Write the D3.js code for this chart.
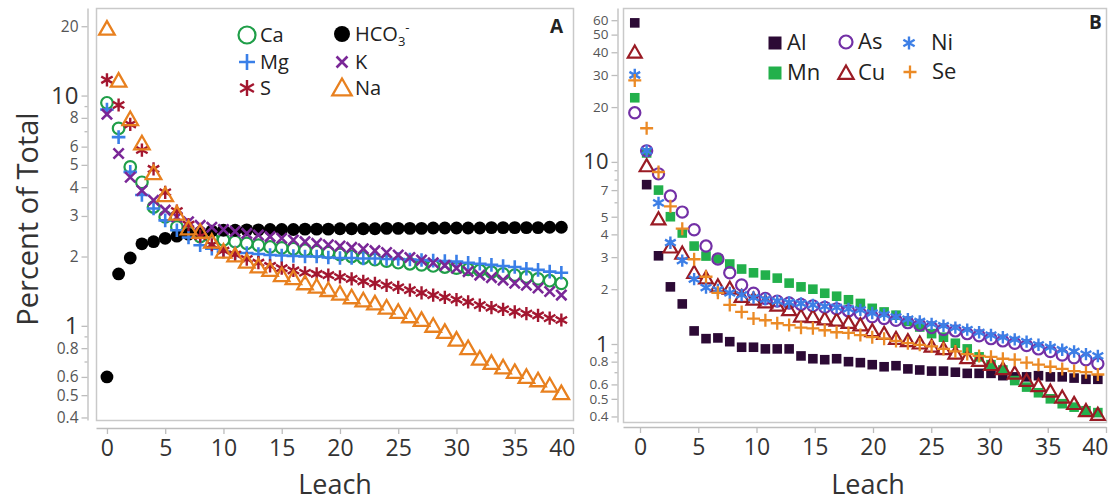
<!DOCTYPE html>
<html>
<head>
<meta charset="UTF-8">
<script src="https://cdn.jsdelivr.net/npm/d3@7"></script>
<style>
  body { margin: 0; background: #fff; }
  svg { font-family: "Open Sans", "Noto Sans", sans-serif; }
</style>
</head>
<body>
<svg id="chart" width="1110" height="504"></svg>
<script>
// ---- panel A: major ions, percent of total per leach ----
var leachA = d3.range(0, 40);
var caA   = [9.3, 7.2, 4.9, 4.2, 3.28, 2.97, 2.69, 2.55, 2.44, 2.4, 2.36, 2.32, 2.28, 2.24, 2.2, 2.18, 2.16, 2.13, 2.1, 2.08,
             2.04, 2.0, 1.97, 1.94, 1.91, 1.88, 1.86, 1.84, 1.82, 1.8, 1.78, 1.76, 1.74, 1.71, 1.68, 1.66, 1.63, 1.6, 1.57, 1.53];
var mgA   = [8.7, 6.6, 4.66, 3.7, 3.23, 2.87, 2.6, 2.42, 2.24, 2.16, 2.1, 2.08, 2.07, 2.05, 2.03, 2.02, 2.01, 2.0, 2.0, 1.98,
             1.97, 1.97, 1.96, 1.96, 1.95, 1.95, 1.94, 1.93, 1.92, 1.91, 1.9, 1.88, 1.86, 1.84, 1.82, 1.8, 1.77, 1.75, 1.72, 1.7];
var sA    = [11.7, 9.1, 7.5, 5.8, 4.8, 3.8, 3.15, 2.75, 2.45, 2.25, 2.12, 2.04, 1.95, 1.88, 1.82, 1.78, 1.74, 1.7, 1.68, 1.66,
             1.63, 1.6, 1.56, 1.53, 1.5, 1.47, 1.43, 1.39, 1.36, 1.33, 1.3, 1.27, 1.23, 1.2, 1.18, 1.15, 1.13, 1.11, 1.08, 1.06];
var hco3A = [0.6, 1.68, 1.97, 2.27, 2.32, 2.4, 2.45, 2.5, 2.55, 2.58, 2.6, 2.6, 2.61, 2.61, 2.62, 2.62, 2.62, 2.63, 2.63, 2.63,
             2.64, 2.64, 2.64, 2.64, 2.65, 2.65, 2.65, 2.65, 2.66, 2.66, 2.66, 2.66, 2.66, 2.67, 2.67, 2.67, 2.67, 2.67, 2.68, 2.68];
var kA    = [8.3, 5.6, 4.42, 3.87, 3.51, 3.18, 2.97, 2.83, 2.73, 2.68, 2.62, 2.57, 2.52, 2.48, 2.44, 2.4, 2.36, 2.32, 2.28, 2.25,
             2.22, 2.19, 2.16, 2.12, 2.08, 2.03, 1.98, 1.93, 1.88, 1.83, 1.78, 1.72, 1.66, 1.62, 1.58, 1.53, 1.5, 1.46, 1.41, 1.36];
var naA   = [19.5, 11.6, 7.9, 6.2, 4.6, 3.69, 3.07, 2.65, 2.56, 2.32, 2.1, 2.02, 1.9, 1.81, 1.75, 1.66, 1.61, 1.53, 1.48, 1.43,
             1.38, 1.33, 1.29, 1.25, 1.2, 1.15, 1.1, 1.06, 1.0, 0.94, 0.87, 0.8, 0.72, 0.69, 0.66, 0.63, 0.6, 0.58, 0.55, 0.51];

// ---- panel B: trace elements ----
var leachB = d3.range(0, 40);
var alB = [58, 7.5, 3.05, 2.06, 1.66, 1.18, 1.07, 1.08, 1.03, 0.96, 0.96, 0.94, 0.94, 0.94, 0.86, 0.83, 0.82, 0.83, 0.8, 0.79,
           0.77, 0.75, 0.76, 0.73, 0.72, 0.71, 0.71, 0.7, 0.69, 0.69, 0.69, 0.67, 0.66, 0.66, 0.67, 0.66, 0.66, 0.65, 0.64, 0.64];
var mnB = [22.5, 11.2, 7.0, 5.0, 4.07, 3.45, 3.04, 2.93, 2.75, 2.58, 2.46, 2.39, 2.3, 2.16, 2.06, 2.0, 1.9, 1.83, 1.75, 1.67,
           1.57, 1.5, 1.44, 1.33, 1.24, 1.14, 1.09, 1.01, 0.94, 0.85, 0.77, 0.72, 0.63, 0.58, 0.54, 0.5, 0.47, 0.45, 0.43, 0.42];
var asB = [18.6, 11.5, 8.6, 6.5, 5.3, 4.24, 3.45, 2.93, 2.46, 2.11, 1.9, 1.78, 1.72, 1.68, 1.65, 1.62, 1.59, 1.56, 1.52, 1.47,
           1.41, 1.38, 1.35, 1.31, 1.27, 1.23, 1.2, 1.18, 1.14, 1.11, 1.07, 1.04, 1.01, 0.98, 0.94, 0.91, 0.87, 0.84, 0.82, 0.78];
var cuB = [40, 9.5, 4.85, 3.4, 3.15, 2.47, 2.3, 2.08, 2.02, 1.82, 1.76, 1.7, 1.63, 1.54, 1.42, 1.41, 1.37, 1.35, 1.31, 1.27,
           1.18, 1.14, 1.07, 1.04, 1.01, 0.97, 0.94, 0.89, 0.84, 0.81, 0.77, 0.73, 0.69, 0.63, 0.59, 0.55, 0.51, 0.47, 0.43, 0.41];
var niB = [30, 11.5, 5.96, 3.6, 2.87, 2.27, 2.04, 1.98, 1.91, 1.86, 1.8, 1.76, 1.72, 1.69, 1.67, 1.64, 1.61, 1.59, 1.56, 1.54,
           1.48, 1.45, 1.41, 1.37, 1.33, 1.29, 1.26, 1.23, 1.2, 1.16, 1.12, 1.09, 1.06, 1.03, 0.99, 0.96, 0.93, 0.91, 0.88, 0.86];
var seB = [28, 15.3, 8.8, 5.7, 4.3, 2.92, 2.34, 1.91, 1.64, 1.5, 1.38, 1.35, 1.3, 1.27, 1.23, 1.22, 1.19, 1.16, 1.15, 1.12,
           1.09, 1.07, 1.04, 1.01, 0.99, 0.97, 0.94, 0.91, 0.88, 0.86, 0.85, 0.83, 0.82, 0.79, 0.77, 0.75, 0.73, 0.71, 0.7, 0.68];

var yTicksA = [20, 10, 8, 6, 5, 4, 3, 2, 1, 0.8, 0.6, 0.5, 0.4];
var yMinorA = [9, 7, 0.9, 0.7];
var yTicksB = [60, 50, 40, 30, 20, 10, 7, 5, 4, 3, 2, 1, 0.8, 0.6, 0.5, 0.4];
var yMinorB = [9, 8, 6, 0.9, 0.7];
var xTicks = [0, 5, 10, 15, 20, 25, 30, 35, 40];

var svg = d3.select("#chart");
svg.append("rect").attr("width", 1110).attr("height", 504).attr("fill", "#fff");

// marker shapes, r = half size
function markerPath(type, r) {
  var p = d3.path();
  if (type == "circle") {
    p.moveTo(r, 0); p.arc(0, 0, r, 0, 2 * Math.PI);
  } else if (type == "square") {
    p.rect(-r, -r, 2 * r, 2 * r);
  } else if (type == "triangle") {
    p.moveTo(0, -r); p.lineTo(r * 1.02, r * 0.78); p.lineTo(-r * 1.02, r * 0.78); p.closePath();
  } else if (type == "plus") {
    p.moveTo(-r, 0); p.lineTo(r, 0); p.moveTo(0, -r); p.lineTo(0, r);
  } else if (type == "times") {
    var a = r * 0.78;
    p.moveTo(-a, -a); p.lineTo(a, a); p.moveTo(-a, a); p.lineTo(a, -a);
  } else if (type == "asterisk") {
    for (var k = 0; k < 3; k++) {
      var ang = Math.PI / 2 + k * Math.PI / 3;
      p.moveTo(-r * Math.cos(ang), -r * Math.sin(ang));
      p.lineTo(r * Math.cos(ang), r * Math.sin(ang));
    }
  }
  return p.toString();
}

function styleMarker(sel, s) {
  sel.attr("fill", s.filled ? s.color : "none")
     .attr("stroke", s.filled ? "none" : s.color)
     .attr("stroke-width", s.sw || 2.3)
     .attr("stroke-linejoin", "miter");
}

function drawPanel(o) {
  var g = svg.append("g");
  var x = d3.scaleLinear().domain(o.xDomain).range(o.xRange);
  var y = d3.scaleLog().domain(o.yDomain).range([o.frameBottom, o.frameTop]);

  // frame
  g.append("rect")
    .attr("x", o.xRange[0] + 0.5).attr("y", o.frameTop + 0.5)
    .attr("width", o.xRange[1] - o.xRange[0]).attr("height", o.frameBottom - o.frameTop)
    .attr("fill", "none").attr("stroke", "#c9c9c9").attr("stroke-width", 1.5);

  // y axis, detached from the frame
  var ya = g.append("g").attr("transform", "translate(" + o.yAxisX + ",0)")
    .call(d3.axisLeft(y).tickValues(o.yTicks).tickSize(6).tickSizeOuter(0).tickPadding(3)
      .tickFormat(function (d) { return d3.format("")(d); }));
  ya.selectAll("text")
    .attr("font-size", function (d) { return (d == 10 || d == 1) ? o.bigTick : o.smallTick; })
    .attr("fill", function (d) { return (d == 10 || d == 1) ? "#333" : "#555"; })
    .attr("font-family", "'Open Sans', sans-serif");
  g.append("g").attr("transform", "translate(" + o.yAxisX + ",0)")
    .call(d3.axisLeft(y).tickValues(o.yMinor).tickSize(3).tickSizeOuter(0).tickFormat(""))
    .select(".domain").remove();
  g.selectAll(".tick line, .domain").attr("stroke", "#bdbdbd").attr("stroke-width", 1.3);

  // x axis
  var xa = g.append("g").attr("transform", "translate(0," + o.xAxisY + ")")
    .call(d3.axisBottom(x).tickValues(xTicks).tickSize(6).tickSizeOuter(0).tickPadding(6));
  xa.selectAll("text").attr("font-size", 23).attr("fill", "#333")
    .attr("font-family", "'Open Sans', sans-serif")
    .attr("text-anchor", function (d) { return d == 40 ? "end" : "middle"; })
    .attr("dx", function (d) { return d == 40 ? 2 : 0; });
  xa.selectAll(".tick line, .domain").attr("stroke", "#bdbdbd").attr("stroke-width", 1.3);

  g.append("text").attr("x", o.xTitleX).attr("y", 494)
    .attr("text-anchor", "middle").attr("font-size", 27).attr("fill", "#333").text("Leach");

  // points
  o.series.forEach(function (s) {
    g.append("g").selectAll("path").data(s.values).join("path")
      .attr("d", markerPath(s.shape, s.r))
      .attr("transform", function (d, i) { return "translate(" + x(o.pos(o.leach[i])) + "," + y(d) + ")"; })
      .call(styleMarker, s);
  });

  // panel letter
  g.append("text").attr("x", o.letterX).attr("y", o.letterY)
    .attr("font-size", 19).attr("font-weight", "bold").attr("fill", "#222").text(o.letter);
  return g;
}

var seriesA = [
  { name: "Ca",   values: caA,   color: "#1f9e48", shape: "circle",   r: 5.8, sw: 2.2 },
  { name: "HCO3", values: hco3A, color: "#000000", shape: "circle",   r: 6.4, filled: true },
  { name: "Mg",   values: mgA,   color: "#3a7fe8", shape: "plus",     r: 6.8, sw: 2.6 },
  { name: "K",    values: kA,    color: "#7a2797", shape: "times",    r: 6.6, sw: 2.6 },
  { name: "S",    values: sA,    color: "#a3162f", shape: "asterisk", r: 6.6, sw: 2.4 },
  { name: "Na",   values: naA,   color: "#e8801f", shape: "triangle", r: 7.6, sw: 2.3 }
];

var seriesB = [
  { name: "Al", values: alB, color: "#2c0a35", shape: "square",   r: 4.8, filled: true },
  { name: "Mn", values: mnB, color: "#22b04b", shape: "square",   r: 4.8, filled: true },
  { name: "As", values: asB, color: "#7330a6", shape: "circle",   r: 5.6, sw: 2.2 },
  { name: "Cu", values: cuB, color: "#9a1b24", shape: "triangle", r: 6.8, sw: 2.2 },
  { name: "Ni", values: niB, color: "#3d7fe6", shape: "asterisk", r: 6.2, sw: 2.4 },
  { name: "Se", values: seB, color: "#eb8a26", shape: "plus",     r: 6.5, sw: 2.3 }
];

// B samples sit slightly left of the integer ticks and spread a bit wider
var bPos = d3.scaleLinear().domain([0, 39]).range([-0.45, 39.3]);

drawPanel({
  letter: "A", letterX: 550, letterY: 33,
  xDomain: [-0.94, 40], xRange: [96, 573], xAxisY: 428,
  yDomain: [0.39, 24], frameTop: 8, frameBottom: 420, yAxisX: 87.5,
  yTicks: yTicksA, yMinor: yMinorA, bigTick: 24, smallTick: 15.5,
  xTitleX: 335, leach: leachA, pos: function (v) { return v; },
  series: seriesA
});

drawPanel({
  letter: "B", letterX: 1089, letterY: 29,
  xDomain: [-1.46, 40], xRange: [623, 1106], xAxisY: 427,
  yDomain: [0.373, 70], frameTop: 8, frameBottom: 422, yAxisX: 617.5,
  yTicks: yTicksB, yMinor: yMinorB, bigTick: 22, smallTick: 13.5,
  xTitleX: 868, leach: leachB, pos: bPos,
  series: seriesB
});

// y title
svg.append("text").attr("transform", "translate(38,219) rotate(-90)")
  .attr("text-anchor", "middle").attr("font-size", 29).attr("fill", "#333").text("Percent of Total");

// legends
function legendItem(x, y, s, r, label, fs) {
  svg.append("path").attr("d", markerPath(s.shape, r))
    .attr("transform", "translate(" + x + "," + y + ")").call(styleMarker, s);
  return svg.append("text").attr("x", x + 13).attr("y", y + 7)
    .attr("font-size", fs).attr("fill", "#222").text(label);
}
var legA = [
  [247, 35, seriesA[0], 8.5, "Ca"], [247, 62, seriesA[2], 8, "Mg"], [247, 88, seriesA[4], 8, "S"],
  [342, 34, seriesA[1], 8, "HCO"], [342, 62, seriesA[3], 7, "K"], [342, 88, seriesA[5], 9.5, "Na"]
];
legA.forEach(function (l) {
  var t = legendItem(l[0], l[1], l[2], l[3], l[4], 20);
  if (l[4] == "HCO") {
    t.append("tspan").attr("font-size", 13).attr("dy", 5).text("3");
    t.append("tspan").attr("font-size", 13).attr("dy", -14).text("-");
  }
});

var legB = [
  [775, 43, seriesB[0], 6.5, "Al"], [775, 73, seriesB[1], 6.5, "Mn"],
  [846, 42, seriesB[2], 6.5, "As"], [846, 73, seriesB[3], 7.5, "Cu"],
  [909, 43, seriesB[4], 6.5, "Ni"], [910, 72, seriesB[5], 6.5, "Se"]
];
legB.forEach(function (l) {
  var t = legendItem(l[0], l[1], l[2], l[3], l[4], 22);
  if (l[4] == "Ni" || l[4] == "Se") t.attr("x", l[0] + 22);
  else t.attr("x", l[0] + 12);
});
</script>
</body>
</html>
